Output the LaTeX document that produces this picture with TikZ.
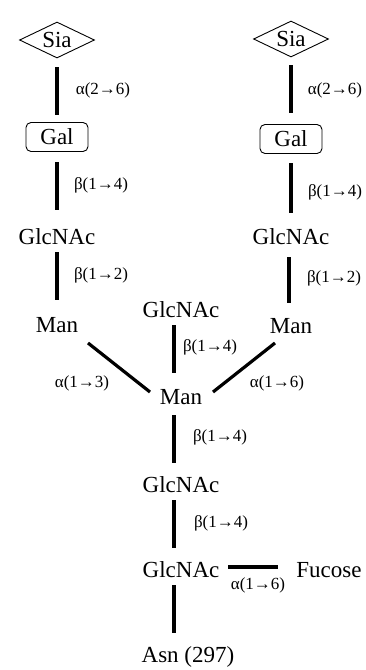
\documentclass[tikz,border=0pt]{standalone}
\usepackage{fontspec}
\setmainfont{Liberation Serif}
\usetikzlibrary{shapes.geometric,calc}
\begin{document}
\begin{tikzpicture}[x=1pt,y=-1pt,
  sugar/.style={inner sep=0pt,font=\fontsize{23}{27}\selectfont},
  siabox/.style={sugar,draw,line width=0.9pt,diamond,aspect=2,minimum width=75pt,minimum height=36pt},
  galbox/.style={sugar,draw,line width=0.9pt,rounded corners=5pt,minimum width=62pt,minimum height=29pt},
  link/.style={line width=3.2pt},
  lab/.style={inner sep=0pt,font=\fontsize{17}{20}\selectfont}]
\useasboundingbox (0,0) rectangle (365,670);
% left branch
\node[siabox] (siaL) at (57,40) {Sia};
\node[galbox] (galL) at (57,137) {Gal};
\node[sugar] (glcL) at (57,237) {GlcNAc};
\node[sugar] (manL) at (57,325) {Man};
% right branch
\node[siabox] (siaR) at (291,39) {Sia};
\node[galbox] (galR) at (291,139) {Gal};
\node[sugar] (glcR) at (291,237) {GlcNAc};
\node[sugar] (manR) at (291,326) {Man};
% core
\node[sugar] (glcC) at (181,310) {GlcNAc};
\node[sugar] (manC) at (181,397) {Man};
\node[sugar] (glcM) at (181,485) {GlcNAc};
\node[sugar] (glcB) at (181,570) {GlcNAc};
\node[sugar] (asn) at (188,657) {Asn (297)};
\node[sugar] (fuc) at (329,570) {Fucose};
% links
\draw[link] ($(siaL)+(0,27)$) -- ($(galL)+(0,-22)$);
\draw[link] ($(galL)+(0,25)$) -- ($(glcL)+(0,-27)$);
\draw[link] ($(glcL)+(0,15)$) -- ($(manL)+(0,-25)$);
\draw[link] ($(siaR)+(0,26)$) -- ($(galR)+(0,-26)$);
\draw[link] ($(galR)+(0,24)$) -- ($(glcR)+(0,-24)$);
\draw[link] ($(glcR)+(-2,20)$) -- ($(manR)+(-2,-23)$);
\draw[link] ($(manL)+(31,18)$) -- ($(manC)+(-31,-5)$);
\draw[link] ($(manR)+(-16,17)$) -- ($(manC)+(32,-5)$);
\draw[link] ($(glcC)+(-7,15)$) -- ($(manC)+(-7,-24)$);
\draw[link] ($(manC)+(-7,18)$) -- ($(glcM)+(-7,-22)$);
\draw[link] ($(glcM)+(-7,15)$) -- ($(glcB)+(-7,-22)$);
\draw[link] ($(glcB)+(-7,15)$) -- ($(asn)+(-14,-24)$);
\draw[link] ($(glcB)+(47,-3)$) -- ($(fuc)+(-51,-3)$);
% labels
\node[lab] (l1) at (103,90) {α(2→6)};
\node[lab] (l2) at (101,185) {β(1→4)};
\node[lab] (l3) at (101,275) {β(1→2)};
\node[lab] (l4) at (335,90) {α(2→6)};
\node[lab] (l5) at (335,192) {β(1→4)};
\node[lab] (l6) at (334,278) {β(1→2)};
\node[lab] (l7) at (82,383) {α(1→3)};
\node[lab] (l8) at (277,383) {α(1→6)};
\node[lab] (l9) at (210,347) {β(1→4)};
\node[lab] (l10) at (220,437) {β(1→4)};
\node[lab] (l11) at (221,523) {β(1→4)};
\node[lab] (l12) at (258,585) {α(1→6)};
\end{tikzpicture}
\end{document}
